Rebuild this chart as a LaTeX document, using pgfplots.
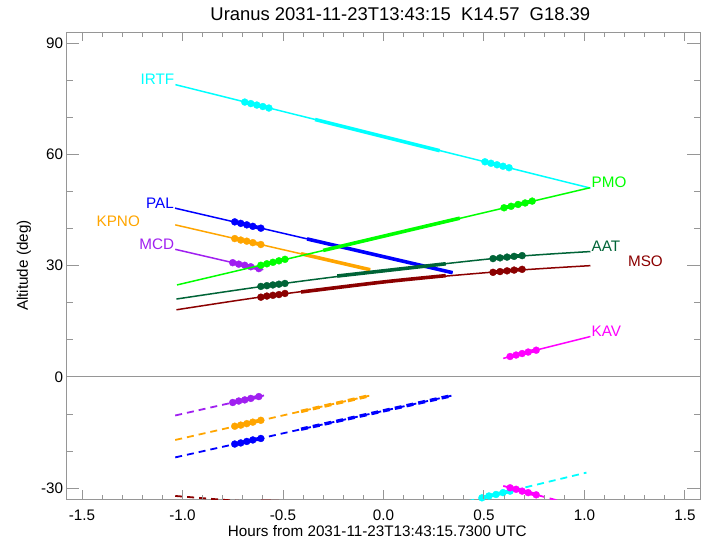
\documentclass[border=0pt]{standalone}
\usepackage{fontspec}
\setmainfont{Liberation Sans}
\usepackage{pgfplots}
\pgfplotsset{compat=1.18}
\definecolor{cIRTF}{RGB}{0,255,255}
\definecolor{cPAL}{RGB}{0,0,255}
\definecolor{cKPNO}{RGB}{255,165,0}
\definecolor{cMCD}{RGB}{160,32,240}
\definecolor{cPMO}{RGB}{0,255,0}
\definecolor{cAAT}{RGB}{0,100,55}
\definecolor{cMSO}{RGB}{139,0,0}
\definecolor{cKAV}{RGB}{255,0,255}
\definecolor{axgray}{RGB}{150,150,150}
\newcommand{\lf}{\fontsize{15.3}{18}\selectfont}
\begin{document}
\begin{tikzpicture}
\pgfplotsset{
  base/.style={scale only axis, width=633.3bp, height=467.3bp,
    xmin=-1.576, xmax=1.575, ymin=-33, ymax=93,
    at={(0,0)}, anchor=south west,
    axis line style={draw=axgray, line width=0.9bp},
    every tick/.style={draw=axgray, line width=0.9bp},
    ticklabel style={font=\lf},
    clip mode=individual},
  thin/.style={line width=1.5bp},
  thk/.style={line width=3.6bp},
  dots/.style={mark=*, mark size=3.5bp, line width=3.8bp, mark options={line width=0.3bp}},
  dsh/.style={line width=1.8bp, dash pattern=on 7bp off 5bp},
  dshk/.style={line width=3.4bp, dash pattern=on 7bp off 5bp},
}
\begin{axis}[base, xtick=\empty,
  ytick={-30,0,30,60,90}, yticklabels={-30,0,30,60,90},
  minor ytick={-20,-10,10,20,40,50,70,80},
  major tick length=12.7bp, minor tick length=6.3bp]
\addplot[axgray, line width=0.9bp, forget plot] coordinates {(-1.576,0) (1.575,0)};
% ---- IRTF
\addplot[cIRTF, thin] coordinates {(-1.035,78.8) (1.03,50.9)};
\addplot[cIRTF, thk] coordinates {(-0.34,69.4) (0.28,61.0)};
\addplot[cIRTF, dots] coordinates {(-0.69,74.1) (-0.66,73.7) (-0.63,73.3) (-0.60,72.9) (-0.57,72.5)};
\addplot[cIRTF, dots] coordinates {(0.505,58.0) (0.535,57.6) (0.565,57.2) (0.595,56.8) (0.625,56.4)};
\addplot[cIRTF, dsh] coordinates {(0.30,-35.1) (1.01,-25.8)};
\addplot[cIRTF, dots] coordinates {(0.49,-32.6) (0.525,-32.1) (0.56,-31.7) (0.595,-31.2) (0.63,-30.8)};
% ---- PAL
\addplot[cPAL, thin] coordinates {(-1.037,45.5) (0.344,28.1)};
\addplot[cPAL, thk] coordinates {(-0.38,37.2) (0.344,28.1)};
\addplot[cPAL, dots] coordinates {(-0.74,41.8) (-0.71,41.4) (-0.68,41.0) (-0.65,40.6) (-0.61,40.1)};
\addplot[cPAL, dsh] coordinates {(-1.036,-21.7) (0.344,-5.0)};
\addplot[cPAL, dshk] coordinates {(-0.41,-14.1) (0.344,-5.0)};
\addplot[cPAL, dots] coordinates {(-0.74,-18.1) (-0.71,-17.8) (-0.68,-17.4) (-0.65,-17.0) (-0.61,-16.6)};
% ---- KPNO
\addplot[cKPNO, thin] coordinates {(-1.036,41.0) (-0.066,28.9)};
\addplot[cKPNO, thk] coordinates {(-0.41,33.2) (-0.066,28.9)};
\addplot[cKPNO, dots] coordinates {(-0.74,37.3) (-0.71,36.9) (-0.68,36.6) (-0.65,36.2) (-0.61,35.7)};
\addplot[cKPNO, dsh] coordinates {(-1.036,-17.0) (-0.064,-5.0)};
\addplot[cKPNO, dshk] coordinates {(-0.41,-9.3) (-0.064,-5.0)};
\addplot[cKPNO, dots] coordinates {(-0.74,-13.3) (-0.71,-13.0) (-0.68,-12.6) (-0.65,-12.2) (-0.61,-11.7)};
% ---- MCD
\addplot[cMCD, thin] coordinates {(-1.036,34.4) (-0.598,28.9)};
\addplot[cMCD, dots] coordinates {(-0.75,30.8) (-0.72,30.4) (-0.69,30.1) (-0.66,29.7) (-0.62,29.2)};
\addplot[cMCD, dsh] coordinates {(-1.036,-10.4) (-0.594,-5.0)};
\addplot[cMCD, dots] coordinates {(-0.75,-6.9) (-0.72,-6.5) (-0.69,-6.2) (-0.66,-5.8) (-0.62,-5.3)};
% ---- PMO
\addplot[cPMO, thin] coordinates {(-1.027,24.8) (1.027,51.0)};
\addplot[cPMO, thk] coordinates {(-0.30,34.1) (0.38,42.8)};
\addplot[cPMO, dots] coordinates {(-0.61,30.1) (-0.58,30.5) (-0.55,30.9) (-0.52,31.3) (-0.49,31.7)};
\addplot[cPMO, dots] coordinates {(0.60,45.6) (0.635,46.0) (0.67,46.5) (0.705,46.9) (0.74,47.4)};
% ---- AAT
\addplot[cAAT, thin, smooth] coordinates {(-1.03,21.0) (-0.55,24.8) (0.0,28.6) (0.6,32.2) (1.03,33.8)};
\addplot[cAAT, thk, smooth] coordinates {(-0.23,27.2) (0.0,28.6) (0.31,30.5)};
\addplot[cAAT, dots] coordinates {(-0.61,24.4) (-0.58,24.6) (-0.55,24.8) (-0.52,25.0) (-0.49,25.2)};
\addplot[cAAT, dots] coordinates {(0.545,31.9) (0.58,32.1) (0.615,32.3) (0.65,32.5) (0.69,32.7)};
% ---- MSO
\addplot[cMSO, thin, smooth] coordinates {(-1.03,18.1) (-0.55,22.0) (0.0,25.6) (0.6,28.5) (1.03,30.0)};
\addplot[cMSO, thk, smooth] coordinates {(-0.41,22.9) (0.0,25.6) (0.31,27.3)};
\addplot[cMSO, dots] coordinates {(-0.61,21.5) (-0.58,21.8) (-0.55,22.0) (-0.52,22.2) (-0.49,22.5)};
\addplot[cMSO, dots] coordinates {(0.545,28.2) (0.58,28.4) (0.615,28.6) (0.65,28.8) (0.69,29.0)};
\addplot[cMSO, dsh] coordinates {(-1.036,-32.1) (-0.83,-33.0) (-0.6,-33.9) (1.03,-40.0)};
\addplot[cMSO, dots] coordinates {(-0.61,-33.6) (-0.58,-33.6) (-0.55,-33.65) (-0.52,-33.7) (-0.49,-33.8)};
% ---- KAV
\addplot[cKAV, thin] coordinates {(0.596,5.0) (1.03,10.9)};
\addplot[cKAV, dots] coordinates {(0.63,5.5) (0.66,5.9) (0.69,6.3) (0.72,6.7) (0.76,7.2)};
\addplot[cKAV, dsh] coordinates {(0.596,-29.4) (0.90,-33.8)};
\addplot[cKAV, dots] coordinates {(0.63,-29.9) (0.66,-30.3) (0.69,-30.8) (0.72,-31.2) (0.76,-31.8)};
% ---- labels
\node[anchor=base east, inner sep=0, xshift=-1bp, text=cIRTF, font=\lf] at (axis cs:-1.035,78.8) {IRTF};
\node[anchor=base east, inner sep=0, xshift=-1bp, text=cPAL, font=\lf] at (axis cs:-1.037,45.3) {PAL};
\node[anchor=base east, inner sep=0, text=cKPNO, font=\lf] at (axis cs:-1.211,40.5) {KPNO};
\node[anchor=base east, inner sep=0, xshift=-1bp, text=cMCD, font=\lf] at (axis cs:-1.036,34.4) {MCD};
\node[anchor=base west, inner sep=0, xshift=1bp, text=cPMO, font=\lf] at (axis cs:1.03,51.0) {PMO};
\node[anchor=base west, inner sep=0, xshift=1bp, text=cAAT, font=\lf] at (axis cs:1.03,33.8) {AAT};
\node[anchor=base west, inner sep=0, text=cMSO, font=\lf] at (axis cs:1.216,29.7) {MSO};
\node[anchor=base west, inner sep=0, xshift=1bp, text=cKAV, font=\lf] at (axis cs:1.03,10.9) {KAV};
% ---- titles
\node[anchor=base, inner sep=0, xshift=17bp, yshift=11.5bp, font=\fontsize{18.5}{22}\selectfont] at (rel axis cs:0.5,1) {Uranus 2031-11-23T13:43:15\ \ K14.57\ \ G18.39};
\node[anchor=base, inner sep=0, xshift=-6bp, yshift=-37bp, font=\lf] at (rel axis cs:0.5,0) {Hours from 2031-11-23T13:43:15.7300 UTC};
\node[anchor=north, rotate=90, inner sep=0, font=\lf] at ([xshift=-50bp]rel axis cs:0,0.5) {Altitude (deg)};
\end{axis}
\begin{axis}[base, axis line style={draw=none}, ytick=\empty,
  xtick={-1.5,-1,-0.5,0,0.5,1,1.5},
  xticklabels={-1.5,-1.0,-0.5,0.0,0.5,1.0,1.5},
  minor x tick num=4,
  major tick length=9.3bp, minor tick length=4.6bp,
  xticklabel style={anchor=base, yshift=-21bp}]
\end{axis}
\useasboundingbox (-66.7bp,-42.7bp) rectangle (643.3bp,499.3bp);
\end{tikzpicture}
\end{document}
